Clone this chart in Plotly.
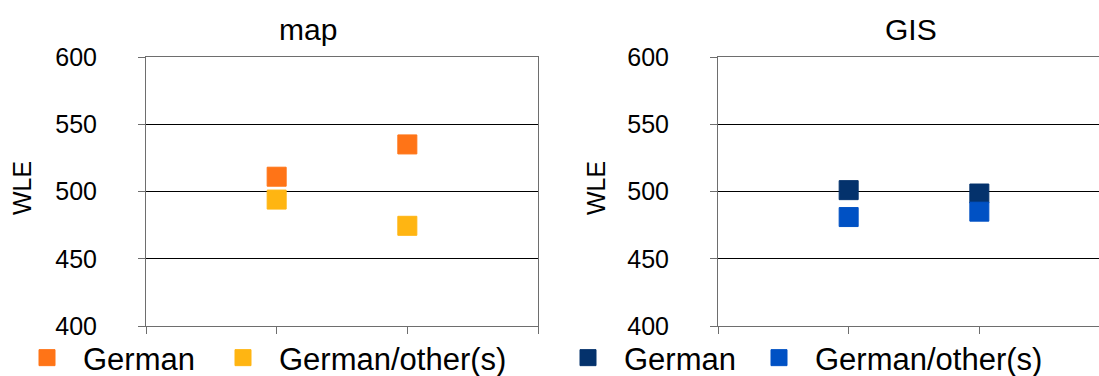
import plotly.graph_objects as go
from plotly.subplots import make_subplots

# %%
groups = [1, 2]
panel_titles = ["map", "GIS"]
series_names = ["German", "German/other(s)"]

map_german = [511, 535]
map_other = [494, 474.5]
gis_german = [501, 498.5]
gis_other = [481, 485]

y_ticks = [400, 450, 500, 550, 600]

map_colors = ["#ff7417", "#ffb512"]
gis_colors = ["#04326c", "#0051c4"]

W, H = 1099, 376
FONT = "Liberation Sans, Arial, sans-serif"


def px(x):
    return x / W


def py(y):
    return 1 - y / H


# %%
fig = make_subplots(rows=1, cols=2)

panels = [
    (1, [map_german, map_other], map_colors, ["legend", "legend2"]),
    (2, [gis_german, gis_other], gis_colors, ["legend3", "legend4"]),
]
for col, values, colors, legends in panels:
    for name, vals, color, lg in zip(series_names, values, colors, legends):
        fig.add_trace(
            go.Scatter(
                x=groups, y=vals, mode="markers", name=name,
                marker=dict(symbol="square", size=19, color=color,
                            line=dict(width=1, color=color)),
                legend=lg, showlegend=True,
            ),
            row=1, col=col,
        )

# %%
axis_common = dict(
    showgrid=False, zeroline=False, showline=True, linecolor="#6e6e6e",
    linewidth=1, ticks="outside", ticklen=7, tickcolor="#6e6e6e",
    tickvals=[0, 1, 2, 3], showticklabels=False, mirror=True,
)
fig.update_xaxes(axis_common)
fig.update_xaxes(domain=[px(146), px(538)], range=[0, 3], row=1, col=1)
fig.update_xaxes(domain=[px(718), 1.0], range=[0, 381 / 130.67], row=1, col=2)

y_common = dict(
    range=[400, 600], tickvals=y_ticks, showgrid=True, gridcolor="#000000",
    gridwidth=1, zeroline=False, showline=True, linecolor="#6e6e6e",
    linewidth=1, ticks="outside", ticklen=7, tickcolor="#6e6e6e",
    tickfont=dict(size=25, color="#000000", family=FONT),
    ticklabelstandoff=36, domain=[py(326), py(57)],
)
fig.update_yaxes(y_common)
fig.update_yaxes(mirror=True, row=1, col=1)
fig.update_yaxes(mirror=False, row=1, col=2)

# titles and axis labels
for text, x in zip(panel_titles, [308, 911]):
    fig.add_annotation(text=text, x=px(x), y=py(29), xref="paper", yref="paper",
                       showarrow=False, xanchor="center", yanchor="middle",
                       font=dict(size=30, color="#000000", family=FONT))
for x in [22, 596]:
    fig.add_annotation(text="WLE", x=px(x), y=py(188), xref="paper", yref="paper",
                       showarrow=False, textangle=-90, xanchor="center",
                       yanchor="middle",
                       font=dict(size=25, color="#000000", family=FONT))

legend_style = dict(
    orientation="h", xanchor="left", yanchor="middle", y=py(358),
    font=dict(size=31, color="#000000", family=FONT),
    bgcolor="rgba(0,0,0,0)", itemwidth=62, borderwidth=0,
)
marker_x = [47, 243, 588, 779]
fig.update_layout(
    legend=dict(legend_style, x=px(marker_x[0] - 36)),
    legend2=dict(legend_style, x=px(marker_x[1] - 36)),
    legend3=dict(legend_style, x=px(marker_x[2] - 36)),
    legend4=dict(legend_style, x=px(marker_x[3] - 36)),
    width=W, height=H,
    margin=dict(l=0, r=0, t=0, b=0, autoexpand=False),
    paper_bgcolor="white", plot_bgcolor="white",
    font=dict(family=FONT, color="#000000"),
)

fig.write_html(
    "out.html",
    config={"displayModeBar": False},
    post_script="document.body.style.margin='0';document.body.style.overflow='hidden';",
)
